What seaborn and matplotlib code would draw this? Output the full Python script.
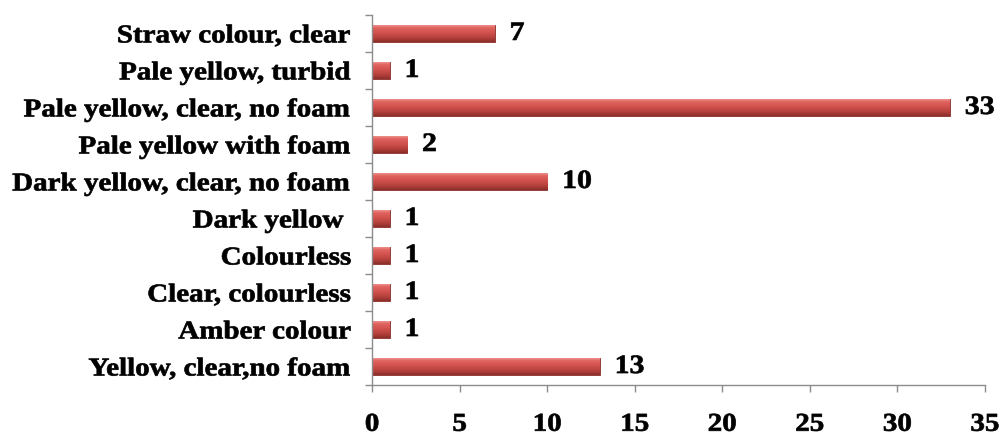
import numpy as np
import pandas as pd
import matplotlib
matplotlib.use("Agg")
import matplotlib.pyplot as plt
import seaborn as sns
from matplotlib.colors import LinearSegmentedColormap
from matplotlib.patheffects import AbstractPathEffect
from matplotlib.transforms import Affine2D

categories = ["Straw colour, clear", "Pale yellow, turbid", "Pale yellow, clear, no foam",
              "Pale yellow with foam", "Dark yellow, clear, no foam", "Dark yellow ",
              "Colourless", "Clear, colourless", "Amber colour", "Yellow, clear,no foam"]
counts = [7, 1, 33, 2, 10, 1, 1, 1, 1, 13]
xticks = [0, 5, 10, 15, 20, 25, 30, 35]

df = pd.DataFrame({"category": categories, "count": counts})

sns.set_style("white")
plt.rcParams['font.family'] = ['Liberation Serif', 'DejaVu Serif']
plt.rcParams['font.weight'] = 'bold'
plt.rcParams['text.color'] = 'black'
plt.rcParams['xtick.labelcolor'] = 'black'
plt.rcParams['ytick.labelcolor'] = 'black'


class Stretch(AbstractPathEffect):
    """Widen text horizontally about its anchor side, with a slight stroke for weight."""
    def __init__(self, text, sx, align, stroke=0.5):
        super().__init__()
        self.text, self.sx, self.align, self.stroke = text, sx, align, stroke

    def draw_path(self, renderer, gc, tpath, affine, rgbFace=None):
        bb = self.text.get_window_extent(renderer)
        px = {"right": bb.x1, "left": bb.x0, "center": 0.5 * (bb.x0 + bb.x1)}[self.align]
        aff = affine + Affine2D().translate(-px, 0).scale(self.sx, 1).translate(px, 0)
        gc0 = renderer.new_gc()
        gc0.copy_properties(gc)
        gc0.set_linewidth(self.stroke)
        gc0.set_foreground("black")
        renderer.draw_path(gc0, tpath, aff, rgbFace)
        gc0.restore()


SX = 1.13

fig = plt.figure(figsize=(10.03, 4.39), dpi=100)
ax = fig.add_axes([0.371, 0.1207, 0.611, 0.843])

sns.barplot(data=df, x="count", y="category", orient="h", color="#C0504D",
            width=0.46, ax=ax, saturation=1)

cmap = LinearSegmentedColormap.from_list(
    "bevel", [(0, "#F2A09C"), (0.2, "#E06460"), (0.5, "#D0504C"), (0.8, "#B03E3A"), (1, "#8A2E2B")])
grad = np.linspace(0, 1, 64).reshape(-1, 1)
for p in ax.patches:
    x0, y0 = p.get_x(), p.get_y()
    w, h = p.get_width(), p.get_height()
    im = ax.imshow(grad, cmap=cmap, aspect="auto", extent=(x0, x0 + w, y0 + h, y0),
                   origin="upper", zorder=p.get_zorder() + 0.1)
    im.set_clip_path(p)
    p.set_edgecolor("#8A2E2B")
    p.set_linewidth(0.6)

ax.set_xlim(0, 35)
ax.set_ylim(len(categories) - 0.5, -0.5)
ax.set_xticks(xticks)
ax.set_xticklabels([str(t) for t in xticks], fontsize=18.5, fontweight="bold")
ax.set_yticks(np.arange(len(categories)))
ax.set_yticklabels(categories, fontsize=18.5, fontweight="bold")
ax.set_xlabel("")
ax.set_ylabel("")

ax.set_yticks(np.arange(len(categories) + 1) - 0.5, minor=True)
ax.tick_params(axis="y", which="major", length=0, pad=15)
ax.tick_params(axis="y", which="minor", length=5, color="#8C8C8C", width=1, direction="out", left=True)
ax.tick_params(axis="x", which="major", length=5, color="#8C8C8C", width=1, direction="out",
               bottom=True, pad=15)

for s in ["top", "right"]:
    ax.spines[s].set_visible(False)
for s in ["left", "bottom"]:
    ax.spines[s].set_visible(True)
    ax.spines[s].set_color("#8C8C8C")
    ax.spines[s].set_linewidth(1)

for t in ax.get_yticklabels():
    t.set_color("black")
    t.set_path_effects([Stretch(t, SX, "right")])
for t in ax.get_xticklabels():
    t.set_color("black")
    t.set_path_effects([Stretch(t, SX, "center")])

for i, v in enumerate(counts):
    t = ax.text(v + 0.85, i, str(v), va="center", ha="left", fontsize=19,
                fontweight="bold", color="black")
    t.set_path_effects([Stretch(t, SX, "left")])

fig.savefig("out.png", dpi=100)
